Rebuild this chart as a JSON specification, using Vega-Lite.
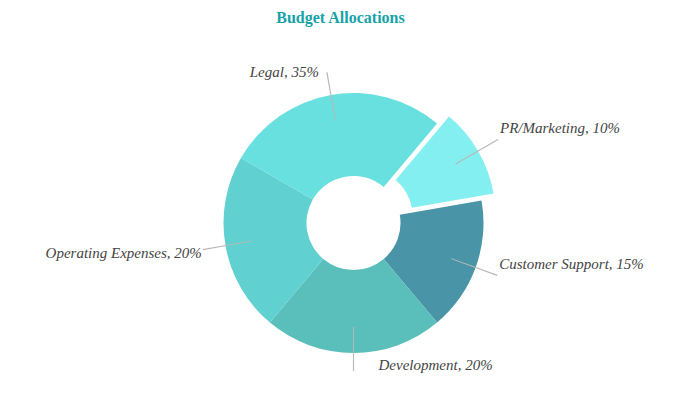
{
  "$schema": "https://vega.github.io/schema/vega-lite/v6.json",
  "autosize": "none",
  "width": 623,
  "height": 356,
  "padding": {"left": 36, "top": 39, "right": 27, "bottom": 0},
  "background": "#ffffff",
  "config": {"view": {"fill": "#fcfcfc", "stroke": null}},
  "title": {
    "text": "Budget Allocations",
    "font": "Liberation Serif",
    "fontSize": 16,
    "fontWeight": "bold",
    "color": "#17a2a8",
    "anchor": "middle",
    "offset": 13,
    "dx": -7
  },
  "data": {
    "values": [
      {"category": "PR/Marketing", "value": 10, "label": "PR/Marketing, 10%", "rank": 1},
      {"category": "Customer Support", "value": 15, "label": "Customer Support, 15%", "rank": 2},
      {"category": "Development", "value": 20, "label": "Development, 20%", "rank": 3},
      {"category": "Operating Expenses", "value": 20, "label": "Operating Expenses, 20%", "rank": 4},
      {"category": "Legal", "value": 25, "label": "Legal, 35%", "rank": 5}
    ]
  },
  "layer": [
    {
      "mark": {
        "type": "arc",
        "outerRadius": 130,
        "innerRadius": 47,
        "xOffset": {"expr": "datum.category === 'PR/Marketing' ? 18 : 6"},
        "yOffset": {"expr": "datum.category === 'PR/Marketing' ? -1 : 6"}
      },
      "encoding": {
        "theta": {
          "field": "value",
          "type": "quantitative",
          "stack": true,
          "scale": {"domain": [0, 90], "range": [0.6981, 6.9813]}
        },
        "order": {"field": "rank", "type": "quantitative"},
        "color": {
          "field": "category",
          "type": "nominal",
          "scale": {
            "domain": ["PR/Marketing", "Customer Support", "Development", "Operating Expenses", "Legal"],
            "range": ["#83eff0", "#4a94a8", "#5abfba", "#61d0d1", "#67e0df"]
          },
          "legend": null
        }
      }
    },
    {
      "transform": [
        {"stack": "value", "groupby": [], "sort": [{"field": "rank"}], "as": ["v0", "v1"]},
        {"calculate": "(datum.v0 + datum.v1) / 2 - 0.06", "as": "a0"},
        {"calculate": "(datum.v0 + datum.v1) / 2 + 0.06", "as": "a1"}
      ],
      "mark": {
        "type": "arc",
        "outerRadius": {"expr": "datum.category === 'Development' ? 148 : 153"},
        "innerRadius": 104,
        "color": "#b8b8b8",
        "xOffset": {"expr": "datum.category === 'PR/Marketing' ? 18 : 6"},
        "yOffset": {"expr": "datum.category === 'PR/Marketing' ? -1 : 6"}
      },
      "encoding": {
        "theta": {"field": "a0", "type": "quantitative", "stack": null},
        "theta2": {"field": "a1"}
      }
    },
    {
      "mark": {
        "type": "text",
        "radius": 153,
        "font": "Liberation Serif",
        "fontStyle": "italic",
        "fontSize": 15,
        "color": "#444444",
        "baseline": "alphabetic",
        "align": {"expr": "datum.category === 'Legal' || datum.category === 'Operating Expenses' ? 'right' : 'left'"},
        "dx": {"expr": "datum.category === 'Development' ? 25 : datum.category === 'Legal' ? -8 : datum.category === 'Operating Expenses' ? -1 : 2"},
        "dy": {"expr": "datum.category === 'Operating Expenses' ? 8 : datum.category === 'Legal' ? 5 : -6"},
        "xOffset": {"expr": "datum.category === 'PR/Marketing' ? 18 : 6"},
        "yOffset": {"expr": "datum.category === 'PR/Marketing' ? -1 : 6"}
      },
      "encoding": {
        "theta": {"field": "value", "type": "quantitative", "stack": true},
        "order": {"field": "rank", "type": "quantitative"},
        "text": {"field": "label", "type": "nominal"}
      }
    }
  ]
}
